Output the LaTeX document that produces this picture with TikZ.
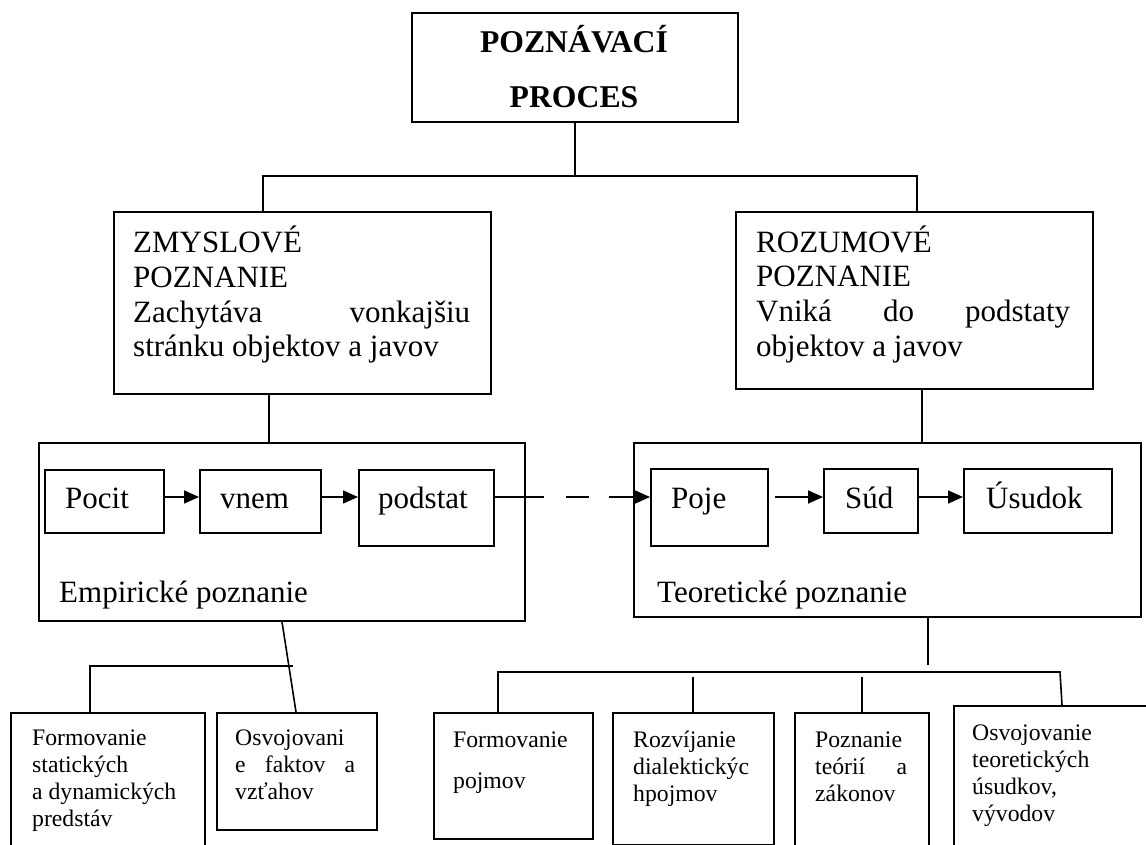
\documentclass[tikz,border=0pt]{standalone}
\usepackage{fontspec}
\setmainfont{Liberation Serif}
\usetikzlibrary{arrows.meta}
\setlength{\parindent}{0pt}
\newcommand\tstr{\rule{0pt}{1em}}
\newcommand\bigfs{\fontsize{31}{34.7}\selectfont}
\newcommand\smallfs{\fontsize{23.7}{27}\selectfont}
\begin{document}
\begin{tikzpicture}[x=1pt,y=-1pt,
  box/.style={draw, line width=1.8pt, inner sep=0pt, anchor=north west},
  conn/.style={line width=1.6pt},
  arr/.style={line width=1.6pt, -{Triangle[length=15pt,width=13pt]}},
  bigtxt/.style={inner sep=0pt, anchor=north west, font=\bigfs, align=justify},
  smalltxt/.style={inner sep=0pt, anchor=north west, font=\smallfs, align=justify},
  onetxt/.style={inner sep=0pt, anchor=base west, font=\bigfs},
  titletxt/.style={inner sep=0pt, anchor=base, font=\bfseries\fontsize{31.7}{34}\selectfont}
]
\useasboundingbox (0,0) rectangle (1146,845);
\fill[white] (0,0) rectangle (1146,845);
\clip (0,0) rectangle (1146,845);

% boxes
\node[box, minimum width=326pt, minimum height=109pt] (T) at (411,12) {};
\node[box, minimum width=377pt, minimum height=182pt] (Z) at (113,211) {};
\node[box, minimum width=357pt, minimum height=177pt] (R) at (735,211) {};
\node[box, minimum width=486pt, minimum height=178pt] (E) at (38,442) {};
\node[box, minimum width=507pt, minimum height=174pt] (Te) at (633,442) {};
\node[box, minimum width=119pt, minimum height=63pt] (pocit) at (44,469) {};
\node[box, minimum width=121pt, minimum height=63pt] (vnem) at (199,469) {};
\node[box, minimum width=135pt, minimum height=76pt] (podstat) at (358,469) {};
\node[box, minimum width=117pt, minimum height=77pt] (poje) at (650,468) {};
\node[box, minimum width=94pt, minimum height=64pt] (sud) at (823,468) {};
\node[box, minimum width=148pt, minimum height=64pt] (usudok) at (963,468) {};
\node[box, minimum width=194pt, minimum height=160pt] (L1) at (10,712) {};
\node[box, minimum width=160pt, minimum height=117pt] (L2) at (216,712) {};
\node[box, minimum width=159pt, minimum height=126pt] (B1) at (433,712) {};
\node[box, minimum width=161pt, minimum height=132pt] (B2) at (612,712) {};
\node[box, minimum width=134pt, minimum height=160pt] (B3) at (794,712) {};
\node[box, minimum width=220pt, minimum height=170pt] (B4) at (953,705) {};

% texts
\node[titletxt] (t1) at (574,53) {POZNÁVACÍ};
\node[titletxt] (t2) at (574,108) {PROCES};
\node[bigtxt, text width=337pt] (ztxt) at (133,221.7) {\tstr ZMYSLOVÉ\\POZNANIE\\Zachytáva \hfill vonkajšiu\\stránku objektov a javov};
\node[bigtxt, text width=314pt] (rtxt) at (756,221) {\tstr ROZUMOVÉ\\POZNANIE\\Vniká \hfill do \hfill podstaty\\objektov a javov};
\node[onetxt] (tpocit) at (65,508) {Pocit};
\node[onetxt] (tvnem) at (220,508) {vnem};
\node[onetxt] (tpodstat) at (378,508) {podstat};
\node[onetxt] (tpoje) at (671,508) {Poje};
\node[onetxt] (tsud) at (845,508) {Súd};
\node[onetxt] (tusudok) at (986,508) {Úsudok};
\node[onetxt] (temp) at (59,602) {Empirické poznanie};
\node[onetxt] (tteo) at (657,602) {Teoretické poznanie};
\node[smalltxt, text width=170pt] (tl1) at (32,721.3) {\tstr Formovanie\\statických\\a dynamických\\predstáv};
\node[smalltxt, text width=120pt] (tl2) at (235,721.3) {\tstr Osvojovani\\e \hfill faktov \hfill a\\vzťahov};
\node[smalltxt, text width=130pt] (tb1) at (453,723.3) {\tstr Formovanie\\[14pt]pojmov};
\node[smalltxt, text width=135pt] (tb2) at (633,723.3) {\tstr Rozvíjanie\\dialektickýc\\hpojmov};
\node[smalltxt, text width=92pt] (tb3) at (815,723.3) {\tstr Poznanie\\teórií \hfill a\\zákonov};
\node[smalltxt, text width=160pt] (tb4) at (972,716.3) {\tstr Osvojovanie\\teoretických\\úsudkov,\\vývodov};

% top connectors
\coordinate (hubL) at (263,176);
\coordinate (hubR) at (917,176);
\draw[conn] (T.south) -- (T.south |- hubL);
\draw[conn] (Z.north -| hubL) -- (hubL) -- (hubR) -- (R.north -| hubR);
\coordinate (zx) at (269,0);
\draw[conn] (Z.south -| zx) -- (E.north -| zx);
\coordinate (rx) at (922,0);
\draw[conn] (R.south -| rx) -- (Te.north -| rx);

% arrows
\coordinate (ay) at (0,497);
\draw[arr] (pocit.east |- ay) -- (vnem.west |- ay);
\draw[arr] (vnem.east |- ay) -- (podstat.west |- ay);
\draw[arr, dash pattern=on 49pt off 22pt on 23pt off 20pt on 60pt] (podstat.east |- ay) -- (poje.west |- ay);
\draw[arr] ([xshift=6pt]poje.east |- ay) -- (sud.west |- ay);
\draw[arr] (sud.east |- ay) -- (usudok.west |- ay);

% bottom left connectors
\coordinate (ea) at (282,0);
\coordinate (l2a) at (296,0);
\draw[conn] (E.south -| ea) -- (L2.north -| l2a);
\coordinate (lh) at (90,666);
\coordinate (lhe) at (293,666);
\draw[conn] (lhe) -- (lh) -- (L1.north -| lh);

% bottom right connectors
\coordinate (tx) at (928,665);
\draw[conn] (Te.south -| tx) -- (tx);
\coordinate (bh1) at (498,672);
\coordinate (bh2) at (1060,672);
\coordinate (b4x) at (1062,0);
\draw[conn] (B1.north -| bh1) -- (bh1) -- (bh2) -- (B4.north -| b4x);
\coordinate (d2) at (693,677);
\draw[conn] (d2) -- (B2.north -| d2);
\coordinate (d3) at (862,677);
\draw[conn] (d3) -- (B3.north -| d3);
\end{tikzpicture}
\end{document}
